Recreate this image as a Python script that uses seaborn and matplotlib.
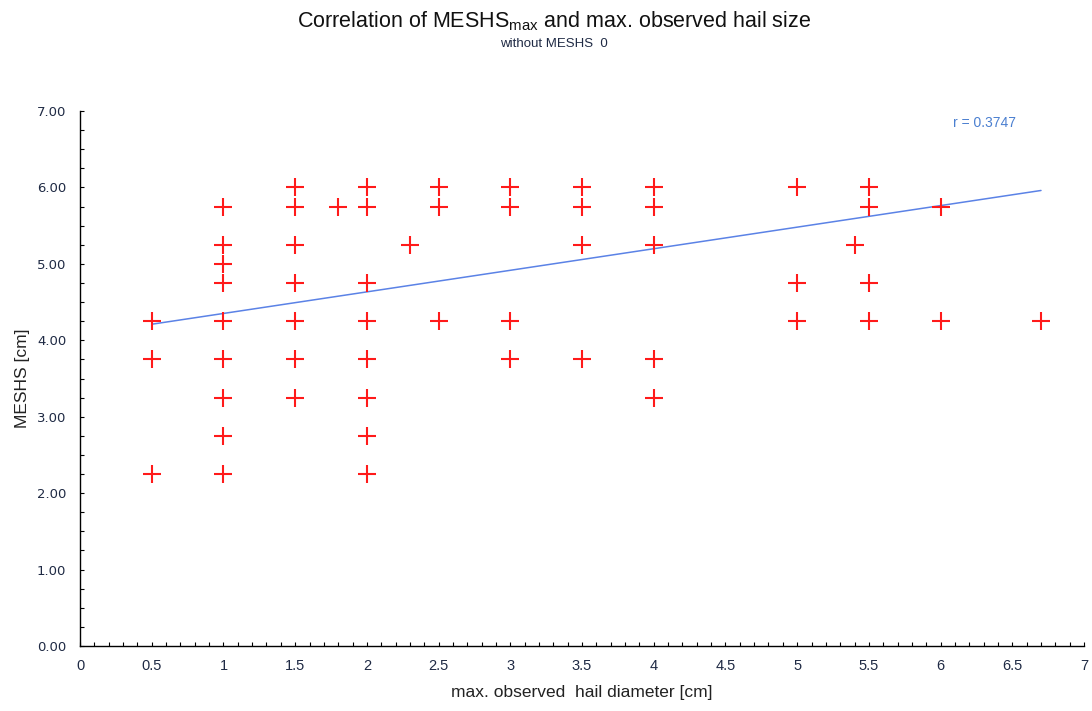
import numpy as np
import pandas as pd
import matplotlib
matplotlib.use("Agg")
import matplotlib.pyplot as plt
from matplotlib.ticker import MultipleLocator, FormatStrFormatter, FuncFormatter
import seaborn as sns

# Observed maximum hail diameter [cm] and corresponding MESHS_max [cm]
hail_diameter = [
    0.5, 0.5, 0.5,
    1, 1, 1, 1, 1, 1, 1, 1, 1,
    1.5, 1.5, 1.5, 1.5, 1.5, 1.5, 1.5,
    1.8,
    2, 2, 2, 2, 2, 2, 2, 2,
    2.3,
    2.5, 2.5, 2.5,
    3, 3, 3, 3,
    3.5, 3.5, 3.5, 3.5,
    4, 4, 4, 4, 4,
    5, 5, 5,
    5.4,
    5.5, 5.5, 5.5, 5.5,
    6, 6,
    6.7,
]
meshs = [
    4.25, 3.75, 2.25,
    5.75, 5.25, 5.0, 4.75, 4.25, 3.75, 3.25, 2.75, 2.25,
    6.0, 5.75, 5.25, 4.75, 4.25, 3.75, 3.25,
    5.75,
    6.0, 5.75, 4.75, 4.25, 3.75, 3.25, 2.75, 2.25,
    5.25,
    6.0, 5.75, 4.25,
    6.0, 5.75, 4.25, 3.75,
    6.0, 5.75, 5.25, 3.75,
    6.0, 5.75, 5.25, 3.75, 3.25,
    6.0, 4.75, 4.25,
    5.25,
    6.0, 5.75, 4.75, 4.25,
    5.75, 4.25,
    4.25,
]
# Linear trend line (all events, incl. repeated reports)
trend_x = [0.5, 6.7]
trend_y = [4.21, 5.96]
r_label = "r = 0.3747"

df = pd.DataFrame({"diameter": hail_diameter, "meshs": meshs})
trend = pd.DataFrame({"diameter": trend_x, "meshs": trend_y})

sns.set_style("white")
plt.rcParams["font.family"] = ["Liberation Sans", "DejaVu Sans"]
plt.rcParams["mathtext.fontset"] = "custom"
plt.rcParams["mathtext.rm"] = "Liberation Sans"
plt.rcParams["mathtext.it"] = "Liberation Sans"

fig = plt.figure(figsize=(10.92, 7.11), dpi=100)
ax = fig.add_axes([0.0733, 0.0914, 0.9194, 0.7525])

sns.lineplot(data=trend, x="diameter", y="meshs", color="#5b82e6",
             linewidth=1.1, ax=ax)
sns.scatterplot(data=df, x="diameter", y="meshs", marker="+", s=150,
                color="#ff1a1a", linewidth=1.5, ax=ax, zorder=3)

ax.set_xlim(0, 7)
ax.set_ylim(0, 7)
ax.xaxis.set_major_locator(MultipleLocator(0.5))
ax.xaxis.set_minor_locator(MultipleLocator(0.1))
ax.yaxis.set_major_locator(MultipleLocator(1))
ax.yaxis.set_minor_locator(MultipleLocator(0.25))
ax.xaxis.set_major_formatter(FuncFormatter(lambda v, p: f"{v:g}"))
ax.yaxis.set_major_formatter(FormatStrFormatter("%.2f"))

for s in ["top", "right"]:
    ax.spines[s].set_visible(False)
for s in ["left", "bottom"]:
    ax.spines[s].set_color("black")
    ax.spines[s].set_linewidth(1.0)

ax.tick_params(axis="both", which="both", direction="in", color="black",
               width=0.8, length=3, bottom=True, left=True,
               labelcolor="#1f2a44")
ax.tick_params(axis="x", which="major", pad=9, labelsize=10.5)
ax.tick_params(axis="y", which="major", pad=10, labelsize=9.5)
for lab in ax.get_yticklabels():
    lab.set_family("DejaVu Sans")

ax.set_xlabel("max. observed  hail diameter [cm]", fontsize=12.5, labelpad=9,
              color="#222222")
ax.set_ylabel("MESHS [cm]", fontsize=12.5, labelpad=5, color="#222222")

ax.text(6.087, 6.79, r_label, color="#4a7fd0", fontsize=10, va="baseline")

fig.text(0.507, 0.962, r"Correlation of MESHS$_{\mathrm{max}}$ and max. observed hail size",
         ha="center", va="baseline", fontsize=15.5, color="#111111")
fig.text(0.507, 0.938, "without MESHS  0", ha="center", va="center",
         fontsize=9.5, color="#1f2a44")

fig.savefig("out.png", dpi=100, facecolor="white")
